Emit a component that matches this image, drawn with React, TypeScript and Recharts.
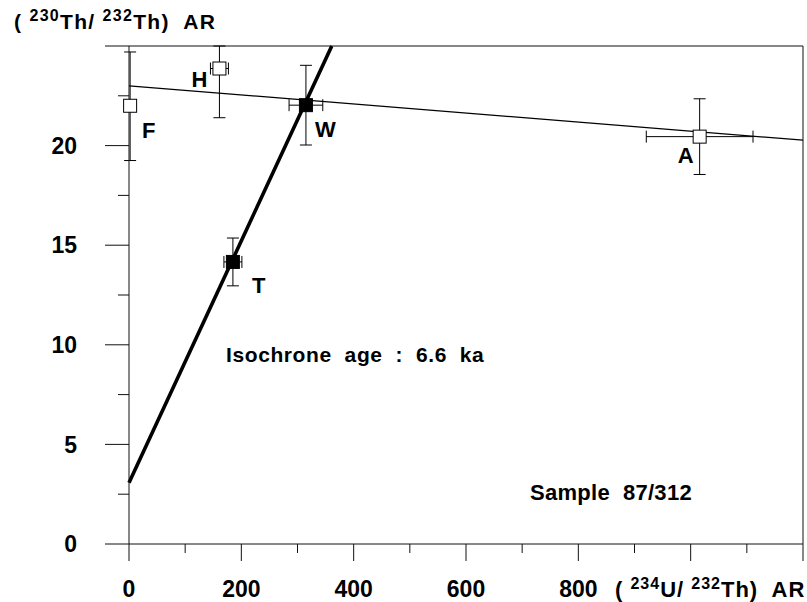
import React from 'react';
import { ScatterChart, Scatter, XAxis, YAxis, ErrorBar, ReferenceLine } from 'recharts';

// Open squares (F, H, A)
const openNames = ['F', 'H', 'A'];
const openX = [2, 161, 1016];
const openY = [22.0, 23.87, 20.45];
const openXErr = [0, 16, 95];
// [below, above]; H's upper bar runs to the top frame
const openYErr = [[2.75, 2.7], [2.47, 1.13], [1.9, 1.9]];

// Filled squares (W, T)
const filledNames = ['W', 'T'];
const filledX = [315, 185];
const filledY = [22.03, 14.16];
const filledXErr = [30, 16];
const filledYErr = [2.0, 1.2];

// Lines
const mixingLine = [{ x: 0, y: 23.0 }, { x: 1200, y: 20.27 }];
const isochroneLine = [{ x: 0, y: 3.07 }, { x: 361, y: 25 }];

// Ticks
const xTicks = [0, 100, 200, 300, 400, 500, 600, 700, 800, 900, 1000, 1100, 1200];
const xTickLabels = [0, 200, 400, 600, 800];
const yTicks = [0, 2.5, 5, 7.5, 10, 12.5, 15, 17.5, 20, 22.5, 25];
const yTickLabels = [0, 5, 10, 15, 20];

const openData = openNames.map((n, i) => ({ name: n, x: openX[i], y: openY[i], xErr: openXErr[i], yErr: openYErr[i] }));
const filledData = filledNames.map((n, i) => ({ name: n, x: filledX[i], y: filledY[i], xErr: filledXErr[i], yErr: filledYErr[i] }));

const labelOffsets: Record<string, [number, number]> = {
  F: [12, 32],
  H: [-28, 18],
  W: [9, 32],
  T: [19, 31],
  A: [-22, 26],
};

const FONT = "'Liberation Sans',Arial,sans-serif";
const txt = { fontFamily: FONT, fontWeight: 700, fill: '#000' } as const;

const makeShape = (filled: boolean) => (props: any) => {
  const { cx, cy, payload } = props;
  const off = labelOffsets[payload.name] || [0, 0];
  return (
    <g>
      <rect x={cx - 6.5} y={cy - 6.5} width={13} height={13} fill={filled ? '#000' : '#fff'} stroke="#000" strokeWidth={1} />
      <text x={cx + off[0]} y={cy + off[1]} fontSize={22} {...txt}>{payload.name}</text>
    </g>
  );
};

const YTick = (props: any) => {
  const { x, y, payload } = props;
  const v = payload.value;
  const major = v % 5 === 0;
  return (
    <g>
      <line x1={x - (major ? 24 : 11)} x2={x} y1={y} y2={y} stroke="#111" strokeWidth={1} />
      {yTickLabels.includes(v) && (
        <text x={x - 52} y={y} dy="0.36em" textAnchor="end" fontSize={23} {...txt}>{v}</text>
      )}
    </g>
  );
};

const XTick = (props: any) => {
  const { x, y, payload } = props;
  const v = payload.value;
  const major = v % 200 === 0;
  return (
    <g>
      <line x1={x} x2={x} y1={y} y2={y + (major ? 17 : 9)} stroke="#111" strokeWidth={1} />
      {xTickLabels.includes(v) && (
        <text x={x} y={y + 53} textAnchor="middle" fontSize={23} {...txt}>{v}</text>
      )}
    </g>
  );
};

export default function App() {
  return (
    <div style={{ position: 'absolute', left: 0, top: 0, width: 807, height: 602, background: '#fff' }}>
      <ScatterChart width={807} height={602} margin={{ top: 46, right: 4, bottom: 28, left: 69 }}>
        <XAxis
          type="number"
          dataKey="x"
          domain={[0, 1200]}
          ticks={xTicks}
          interval={0}
          tickSize={0}
          tickMargin={0}
          tickLine={false}
          tick={<XTick />}
          axisLine={{ stroke: '#111', strokeWidth: 1 }}
          height={30}
        />
        <YAxis
          type="number"
          dataKey="y"
          domain={[0, 25]}
          ticks={yTicks}
          interval={0}
          tickSize={0}
          tickMargin={0}
          tickLine={false}
          tick={<YTick />}
          axisLine={{ stroke: '#111', strokeWidth: 1 }}
          width={60}
        />
        <ReferenceLine y={25} stroke="#111" strokeWidth={1} />
        <ReferenceLine x={1200} stroke="#111" strokeWidth={1} />
        <ReferenceLine segment={mixingLine} stroke="#000" strokeWidth={1.2} />
        <ReferenceLine segment={isochroneLine} stroke="#000" strokeWidth={3.6} />
        <Scatter data={openData} shape={makeShape(false)} isAnimationActive={false}>
          <ErrorBar dataKey="yErr" direction="y" width={6} stroke="#000" strokeWidth={1} isAnimationActive={false} />
          <ErrorBar dataKey="xErr" direction="x" width={6} stroke="#000" strokeWidth={1} isAnimationActive={false} />
        </Scatter>
        <Scatter data={filledData} shape={makeShape(true)} isAnimationActive={false}>
          <ErrorBar dataKey="yErr" direction="y" width={6} stroke="#000" strokeWidth={1} isAnimationActive={false} />
          <ErrorBar dataKey="xErr" direction="x" width={6} stroke="#000" strokeWidth={1} isAnimationActive={false} />
        </Scatter>
        <text x={14} y={29} fontSize={21} letterSpacing={1.3} {...txt} style={{ whiteSpace: 'pre' }}>
          {'( '}
          <tspan dy={-8} fontSize={16}>230</tspan>
          <tspan dy={8}>{'Th/ '}</tspan>
          <tspan dy={-8} fontSize={16}>232</tspan>
          <tspan dy={8}>{'Th)  AR'}</tspan>
        </text>
        <text x={615} y={597} fontSize={22} letterSpacing={1} {...txt} style={{ whiteSpace: 'pre' }}>
          {'( '}
          <tspan dy={-8} fontSize={16}>234</tspan>
          <tspan dy={8}>{'U/ '}</tspan>
          <tspan dy={-8} fontSize={16}>232</tspan>
          <tspan dy={8}>{'Th)  AR'}</tspan>
        </text>
        <text x={226} y={362} fontSize={21} letterSpacing={0.6} {...txt} style={{ whiteSpace: 'pre' }}>
          {'Isochrone  age  :  6.6  ka'}
        </text>
        <text x={530} y={500} fontSize={22} letterSpacing={0.3} {...txt} style={{ whiteSpace: 'pre' }}>
          {'Sample  87/312'}
        </text>
      </ScatterChart>
    </div>
  );
}
